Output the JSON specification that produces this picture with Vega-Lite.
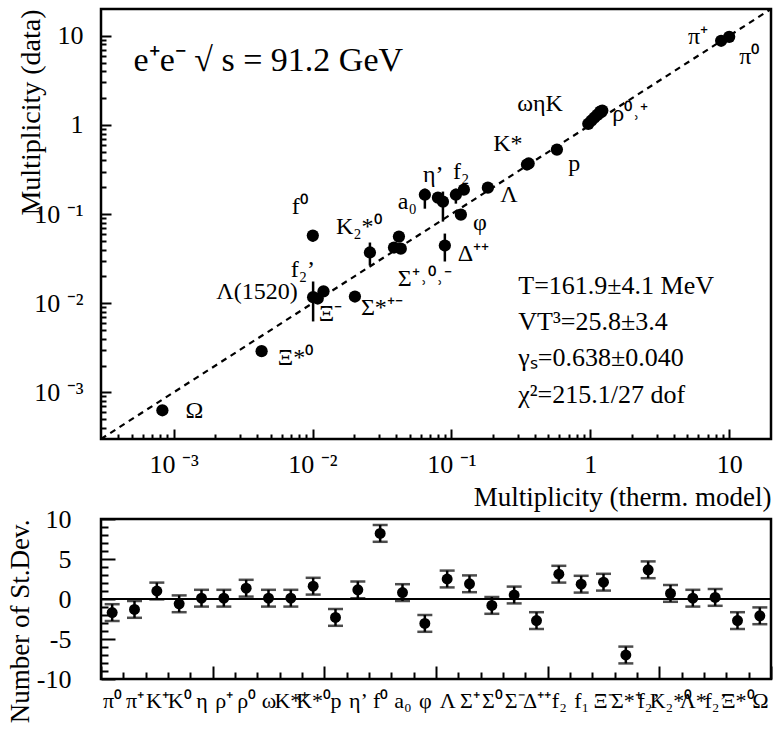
{
  "$schema": "https://vega.github.io/schema/vega-lite/v6.json",
  "padding": {"left": 5, "top": 3, "right": 0, "bottom": 0},
  "background": "white",
  "bounds": "flush",
  "spacing": 80,
  "config": {
    "font": "Liberation Serif",
    "view": {"stroke": "black", "strokeWidth": 2.5},
    "axis": {"grid": false, "domain": false, "tickColor": "black", "labelColor": "black", "titleColor": "black", "tickWidth": 2, "labelFont": "Liberation Serif", "titleFont": "Liberation Serif", "titleFontWeight": "normal", "labelOverlap": false, "labelFlush": false, "labelBound": false}
  },
  "datasets": {
    "diag": [{"x": 0.0003, "y": 0.0003}, {"x": 20, "y": 20}],
    "pts": [
      {"name": "π⁰", "x": 10.0, "y": 9.75},
      {"name": "π⁺", "x": 8.75, "y": 8.8},
      {"name": "K⁺", "x": 0.967, "y": 1.03},
      {"name": "K⁰", "x": 1.017, "y": 1.116},
      {"name": "η", "x": 1.069, "y": 1.206},
      {"name": "ρ⁺", "x": 1.123, "y": 1.30},
      {"name": "ρ⁰", "x": 1.18, "y": 1.41},
      {"name": "ω", "x": 1.22, "y": 1.45},
      {"name": "K*⁺", "x": 0.36, "y": 0.37},
      {"name": "K*⁰", "x": 0.35, "y": 0.36},
      {"name": "p", "x": 0.575, "y": 0.529},
      {"name": "Λ", "x": 0.183, "y": 0.198},
      {"name": "f₂", "x": 0.1077, "y": 0.165},
      {"name": "f₁", "x": 0.123, "y": 0.188},
      {"name": "φ", "x": 0.117, "y": 0.0986},
      {"name": "η'", "x": 0.0869, "y": 0.138},
      {"name": "Λ*", "x": 0.080, "y": 0.153},
      {"name": "a₀", "x": 0.0644, "y": 0.165},
      {"name": "Σ⁺", "x": 0.0419, "y": 0.056},
      {"name": "Σ⁰", "x": 0.0386, "y": 0.0422},
      {"name": "Σ⁻", "x": 0.0432, "y": 0.041},
      {"name": "Δ⁺⁺", "x": 0.0897, "y": 0.0444},
      {"name": "K₂*⁰", "x": 0.0259, "y": 0.0371},
      {"name": "f⁰", "x": 0.01005, "y": 0.0574},
      {"name": "Ξ⁻", "x": 0.0101, "y": 0.0117},
      {"name": "Λ(1520)", "x": 0.0109, "y": 0.0113},
      {"name": "f₂'", "x": 0.012, "y": 0.0136},
      {"name": "Σ*", "x": 0.0202, "y": 0.0119},
      {"name": "Ξ*⁰", "x": 0.0043, "y": 0.0029},
      {"name": "Ω", "x": 0.00083, "y": 0.00063}
    ],
    "errs": [
      {"name": "f⁰", "x": 0.01005, "y": 0.049, "y2": 0.062},
      {"name": "a₀", "x": 0.0644, "y": 0.115, "y2": 0.193},
      {"name": "η'", "x": 0.0869, "y": 0.0824, "y2": 0.179},
      {"name": "f₂", "x": 0.1077, "y": 0.131, "y2": 0.193},
      {"name": "K₂*⁰", "x": 0.0259, "y": 0.0265, "y2": 0.048},
      {"name": "Δ⁺⁺", "x": 0.0897, "y": 0.0294, "y2": 0.0605},
      {"name": "Ξ⁻", "x": 0.0101, "y": 0.00625, "y2": 0.01754}
    ],
    "annot": [
      {"t": "π⁺", "x": 5.06, "y": 8.13},
      {"t": "π⁰", "x": 11.8, "y": 4.85},
      {"t": "ωηK", "x": 0.298, "y": 1.445},
      {"t": "ρ⁰˒⁺", "x": 1.44, "y": 1.116},
      {"t": "K*", "x": 0.2, "y": 0.514},
      {"t": "p", "x": 0.694, "y": 0.307},
      {"t": "Λ", "x": 0.2245, "y": 0.138},
      {"t": "φ", "x": 0.143, "y": 0.067},
      {"t": "Δ⁺⁺", "x": 0.111, "y": 0.0301},
      {"t": "Σ⁺˒⁰˒⁻", "x": 0.0411, "y": 0.0158},
      {"t": "Σ*⁺⁻", "x": 0.0223, "y": 0.0073},
      {"t": "Ξ⁻", "x": 0.0111, "y": 0.00625},
      {"t": "Λ(1520)", "x": 0.00783, "y": 0.0113},
      {"t": "f₂’", "x": 0.00696, "y": 0.01995},
      {"t": "f⁰", "x": 0.00708, "y": 0.1014},
      {"t": "K₂*⁰", "x": 0.01473, "y": 0.0605},
      {"t": "a₀", "x": 0.0411, "y": 0.1153},
      {"t": "η’", "x": 0.0624, "y": 0.231},
      {"t": "f₂", "x": 0.1026, "y": 0.25},
      {"t": "Ω", "x": 0.00122, "y": 0.000512},
      {"t": "Ξ*⁰", "x": 0.00562, "y": 0.00201}
    ],
    "params": [
      {"t": "T=161.9±4.1 MeV", "x": 0.303, "y": 0.01285},
      {"t": "VT³=25.8±3.4", "x": 0.303, "y": 0.00495},
      {"t": "γₛ=0.638±0.040", "x": 0.303, "y": 0.001954},
      {"t": "χ²=215.1/27 dof", "x": 0.303, "y": 0.000753}
    ],
    "heading": [{"t": "e⁺e⁻ √ s = 91.2 GeV", "x": 0.000515, "y": 4.06}],
    "zero": [{"i": 0.5, "v": 0}, {"i": 30.5, "v": 0}],
    "resid": [
      {"i": 1, "name": "π⁰", "v": -1.7, "lo": -2.75, "hi": -0.65},
      {"i": 2, "name": "π⁺", "v": -1.3, "lo": -2.35, "hi": -0.25},
      {"i": 3, "name": "K⁺", "v": 1.0, "lo": -0.05, "hi": 2.05},
      {"i": 4, "name": "K⁰", "v": -0.6, "lo": -1.65, "hi": 0.45},
      {"i": 5, "name": "η", "v": 0.1, "lo": -0.95, "hi": 1.15},
      {"i": 6, "name": "ρ⁺", "v": 0.1, "lo": -0.95, "hi": 1.15},
      {"i": 7, "name": "ρ⁰", "v": 1.35, "lo": 0.3, "hi": 2.4},
      {"i": 8, "name": "ω", "v": 0.1, "lo": -0.95, "hi": 1.15},
      {"i": 9, "name": "K*⁺", "v": 0.1, "lo": -0.95, "hi": 1.15},
      {"i": 10, "name": "K*⁰", "v": 1.6, "lo": 0.55, "hi": 2.65},
      {"i": 11, "name": "p", "v": -2.3, "lo": -3.35, "hi": -1.25},
      {"i": 12, "name": "η'", "v": 1.15, "lo": 0.1, "hi": 2.2},
      {"i": 13, "name": "f⁰", "v": 8.2, "lo": 7.15, "hi": 9.25},
      {"i": 14, "name": "a₀", "v": 0.8, "lo": -0.25, "hi": 1.85},
      {"i": 15, "name": "φ", "v": -3.05, "lo": -4.1, "hi": -2.0},
      {"i": 16, "name": "Λ", "v": 2.5, "lo": 1.45, "hi": 3.55},
      {"i": 17, "name": "Σ⁺", "v": 1.9, "lo": 0.85, "hi": 2.95},
      {"i": 18, "name": "Σ⁰", "v": -0.8, "lo": -1.85, "hi": 0.25},
      {"i": 19, "name": "Σ⁻", "v": 0.5, "lo": -0.55, "hi": 1.55},
      {"i": 20, "name": "Δ⁺⁺", "v": -2.7, "lo": -3.75, "hi": -1.65},
      {"i": 21, "name": "f₂", "v": 3.1, "lo": 2.05, "hi": 4.15},
      {"i": 22, "name": "f₁", "v": 1.85, "lo": 0.8, "hi": 2.9},
      {"i": 23, "name": "Ξ⁻", "v": 2.1, "lo": 1.05, "hi": 3.15},
      {"i": 24, "name": "Σ*⁺", "v": -7.0, "lo": -8.05, "hi": -5.95},
      {"i": 25, "name": "f₂'", "v": 3.65, "lo": 2.6, "hi": 4.7},
      {"i": 26, "name": "K₂*⁰", "v": 0.7, "lo": -0.35, "hi": 1.75},
      {"i": 27, "name": "Λ*", "v": 0.1, "lo": -0.95, "hi": 1.15},
      {"i": 28, "name": "f₂'", "v": 0.2, "lo": -0.85, "hi": 1.25},
      {"i": 29, "name": "Ξ*⁰", "v": -2.7, "lo": -3.75, "hi": -1.65},
      {"i": 30, "name": "Ω", "v": -2.1, "lo": -3.15, "hi": -1.05}
    ]
  },
  "vconcat": [
    {
      "width": 670,
      "height": 430,
      "encoding": {
        "x": {"field": "x", "type": "quantitative",
          "scale": {"type": "log", "domain": [0.0003, 20], "nice": false},
          "axis": {
            "title": "Multiplicity (therm. model)", "titleAnchor": "end", "titleFontSize": 27, "titlePadding": 2,
            "values": [0.0004,0.0005,0.0006,0.0007,0.0008,0.0009,0.001,0.002,0.003,0.004,0.005,0.006,0.007,0.008,0.009,0.01,0.02,0.03,0.04,0.05,0.06,0.07,0.08,0.09,0.1,0.2,0.3,0.4,0.5,0.6,0.7,0.8,0.9,1,2,3,4,5,6,7,8,9,10],
            "labelExpr": "datum.value == 0.001 ? '10 ⁻³' : datum.value == 0.01 ? '10 ⁻²' : datum.value == 0.1 ? '10 ⁻¹' : datum.value == 1 ? '1' : datum.value == 10 ? '10' : ''",
            "labelFontSize": 26, "labelPadding": 22,
            "tickSize": {"condition": {"test": "indexof([0.001,0.01,0.1,1,10], datum.value) >= 0", "value": -10}, "value": -5}
          }},
        "y": {"field": "y", "type": "quantitative",
          "scale": {"type": "log", "domain": [0.0003, 20], "nice": false},
          "axis": {
            "title": "Multiplicity (data)", "titleAnchor": "end", "titleFontSize": 28, "titlePadding": -12,
            "values": [0.0004,0.0005,0.0006,0.0007,0.0008,0.0009,0.001,0.002,0.003,0.004,0.005,0.006,0.007,0.008,0.009,0.01,0.02,0.03,0.04,0.05,0.06,0.07,0.08,0.09,0.1,0.2,0.3,0.4,0.5,0.6,0.7,0.8,0.9,1,2,3,4,5,6,7,8,9,10],
            "labelExpr": "datum.value == 0.001 ? '10 ⁻³' : datum.value == 0.01 ? '10 ⁻²' : datum.value == 0.1 ? '10 ⁻¹' : datum.value == 1 ? '1' : datum.value == 10 ? '10' : ''",
            "labelFontSize": 26, "labelPadding": 28,
            "tickSize": {"condition": {"test": "indexof([0.001,0.01,0.1,1,10], datum.value) >= 0", "value": -10}, "value": -5}
          }}
      },
      "layer": [
        {"data": {"name": "diag"}, "mark": {"type": "line", "color": "black", "strokeWidth": 2.2, "strokeDash": [6, 5]}, "encoding": {}},
        {"data": {"name": "errs"}, "mark": {"type": "rule", "color": "black", "strokeWidth": 2.5}, "encoding": {"y2": {"field": "y2"}}},
        {"data": {"name": "pts"}, "mark": {"type": "circle", "color": "black", "opacity": 1, "size": 150}, "encoding": {}},
        {"data": {"name": "annot"}, "transform": [{"filter": "datum.t !== 'Λ(1520)'"}], "mark": {"type": "text", "font": "Liberation Serif", "fontSize": 24, "align": "left", "baseline": "alphabetic", "color": "black"}, "encoding": {"text": {"field": "t"}}},
        {"data": {"name": "annot"}, "transform": [{"filter": "datum.t === 'Λ(1520)'"}], "mark": {"type": "text", "font": "Liberation Serif", "fontSize": 24, "align": "right", "baseline": "alphabetic", "color": "black"}, "encoding": {"text": {"field": "t"}}},
        {"data": {"name": "params"}, "mark": {"type": "text", "font": "Liberation Serif", "fontSize": 26, "align": "left", "baseline": "alphabetic", "color": "black"}, "encoding": {"text": {"field": "t"}}},
        {"data": {"name": "heading"}, "mark": {"type": "text", "font": "Liberation Serif", "fontSize": 34, "align": "left", "baseline": "alphabetic", "color": "black"}, "encoding": {"text": {"field": "t"}}}
      ]
    },
    {
      "width": 670,
      "height": 160,
      "encoding": {
        "x": {"field": "i", "type": "quantitative", "scale": {"domain": [0.5, 30.5], "nice": false, "zero": false},
          "axis": {
            "title": null,
            "values": [0.5,1,1.5,2,2.5,3,3.5,4,4.5,5,5.5,6,6.5,7,7.5,8,8.5,9,9.5,10,10.5,11,11.5,12,12.5,13,13.5,14,14.5,15,15.5,16,16.5,17,17.5,18,18.5,19,19.5,20,20.5,21,21.5,22,22.5,23,23.5,24,24.5,25,25.5,26,26.5,27,27.5,28,28.5,29,29.5,30,30.5],
            "labelExpr": "datum.value % 1 == 0 ? ['π⁰','π⁺','K⁺','K⁰','η','ρ⁺','ρ⁰','ω','K*⁺','K*⁰','p','η’','f⁰','a₀','φ','Λ','Σ⁺','Σ⁰','Σ⁻','Δ⁺⁺','f₂','f₁','Ξ⁻','Σ*⁺','f₂’','K₂*⁰','Λ*','f₂’','Ξ*⁰','Ω'][datum.value - 1] : ''",
            "labelFontSize": 22, "labelPadding": 18,
            "tickOpacity": {"condition": {"test": "datum.value % 1 == 0", "value": 0}, "value": 1},
            "tickSize": {"condition": {"test": "(datum.value - 0.5) % 5 == 0", "value": -13}, "value": -7}
          }},
        "y": {"field": "v", "type": "quantitative", "scale": {"domain": [-10, 10], "nice": false},
          "axis": {
            "title": "Number of St.Dev.", "titleAnchor": "end", "titleFontSize": 27, "titlePadding": 2,
            "values": [-10,-9,-8,-7,-6,-5,-4,-3,-2,-1,0,1,2,3,4,5,6,7,8,9,10],
            "labelExpr": "datum.value % 5 == 0 ? '' + datum.value : ''",
            "labelFontSize": 26, "labelPadding": 44,
            "tickSize": {"condition": {"test": "datum.value % 5 == 0", "value": -14}, "value": -7}
          }}
      },
      "layer": [
        {"data": {"name": "zero"}, "mark": {"type": "line", "color": "black", "strokeWidth": 2.2}, "encoding": {}},
        {"data": {"name": "resid"}, "mark": {"type": "rule", "color": "black", "strokeWidth": 2.5}, "encoding": {"y2": {"field": "hi"}}},
        {"data": {"name": "resid"}, "mark": {"type": "rule", "color": "black", "strokeWidth": 2.5}, "encoding": {"y2": {"field": "lo"}}},
        {"data": {"name": "resid"}, "transform": [{"fold": ["lo", "hi"], "as": ["end", "v"]}], "mark": {"type": "tick", "orient": "horizontal", "color": "black", "thickness": 2.5, "size": 15}, "encoding": {}},
        {"data": {"name": "resid"}, "mark": {"type": "circle", "color": "black", "opacity": 1, "size": 120}, "encoding": {}}
      ]
    }
  ]
}
